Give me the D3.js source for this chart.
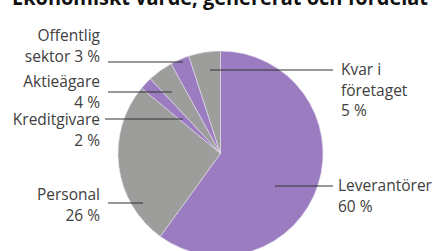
<!DOCTYPE html>
<html>
<head>
<meta charset="utf-8">
<script src="https://cdn.jsdelivr.net/npm/d3@7"></script>
<style>
  body { margin: 0; background: #fff; overflow: hidden; }
  text { font-family: "Open Sans", sans-serif; }
</style>
</head>
<body>
<script>
// dimensions
var width = 433;
var height = 251;

// data
var categories = ["Leverantörer", "Personal", "Kreditgivare", "Aktieägare", "Offentlig sektor", "Kvar i företaget"];
var values = [60, 26, 2, 4, 3, 5];
var colours = ["#9b7cc1", "#9d9d9c", "#9b7cc1", "#9d9d9c", "#9b7cc1", "#9d9d9c"];
// label text lines per slice
var labelLines = [
    ["Leverantörer", "60 %"],
    ["Personal", "26 %"],
    ["Kreditgivare", "2 %"],
    ["Aktieägare", "4 %"],
    ["Offentlig", "sektor 3 %"],
    ["Kvar i", "företaget", "5 %"]
];

var cx = 220.5, cy = 153.5, radius = 102.5;

var svg = d3.select("body")
    .append("svg")
    .attr("width", width)
    .attr("height", height);

// title, cut off at the top like in the source
svg.append("text")
    .attr("x", 12)
    .attr("y", 5)
    .attr("textLength", 416)
    .attr("lengthAdjust", "spacingAndGlyphs")
    .style("font-weight", "bold")
    .style("font-size", "21px")
    .style("fill", "#111")
    .text("Ekonomiskt värde, genererat och fördelat");

var pie = d3.pie().sort(null).value(function(d) { return d; });
var arc = d3.arc().innerRadius(0).outerRadius(radius);
var arcs = pie(values);

var g = svg.append("g")
    .attr("transform", "translate(" + cx + "," + cy + ")");

g.selectAll("path")
    .data(arcs)
    .enter().append("path")
    .attr("d", arc)
    .attr("fill", function(d, i) { return colours[i]; })
    .attr("stroke", "#e6e0ee")
    .attr("stroke-width", 0.6);

// leader lines and label anchors
var leaders = [
    {x1: 275, x2: 333, y: 186, tx: 338, ty: 191, anchor: "start"},
    {x1: 143, x2: 108, y: 203, tx: 100, ty: 200, anchor: "end"},
    {x1: 183, x2: 105, y: 119, tx: 100, ty: 125, anchor: "end"},
    {x1: 172, x2: 108, y: 92, tx: 100, ty: 87, anchor: "end"},
    {x1: 183, x2: 108, y: 62, tx: 100, ty: 41, anchor: "end"},
    {x1: 210, x2: 333, y: 70, tx: 341, ty: 75, anchor: "start"}
];

svg.selectAll(".leader")
    .data(leaders)
    .enter().append("line")
    .attr("class", "leader")
    .attr("x1", function(d) { return d.x1; })
    .attr("x2", function(d) { return d.x2; })
    .attr("y1", function(d) { return d.y; })
    .attr("y2", function(d) { return d.y; })
    .attr("stroke", "#333")
    .attr("stroke-width", 1.1);

var labels = svg.selectAll(".label")
    .data(leaders)
    .enter().append("text")
    .attr("class", "label")
    .attr("text-anchor", function(d) { return d.anchor; })
    .style("font-size", "15.5px")
    .style("fill", "#404040");

labels.each(function(d, i) {
    var t = d3.select(this);
    labelLines[i].forEach(function(line, j) {
        t.append("tspan")
            .attr("x", d.tx)
            .attr("y", d.ty + j * 20.5)
            .text(line);
    });
});
</script>
</body>
</html>
